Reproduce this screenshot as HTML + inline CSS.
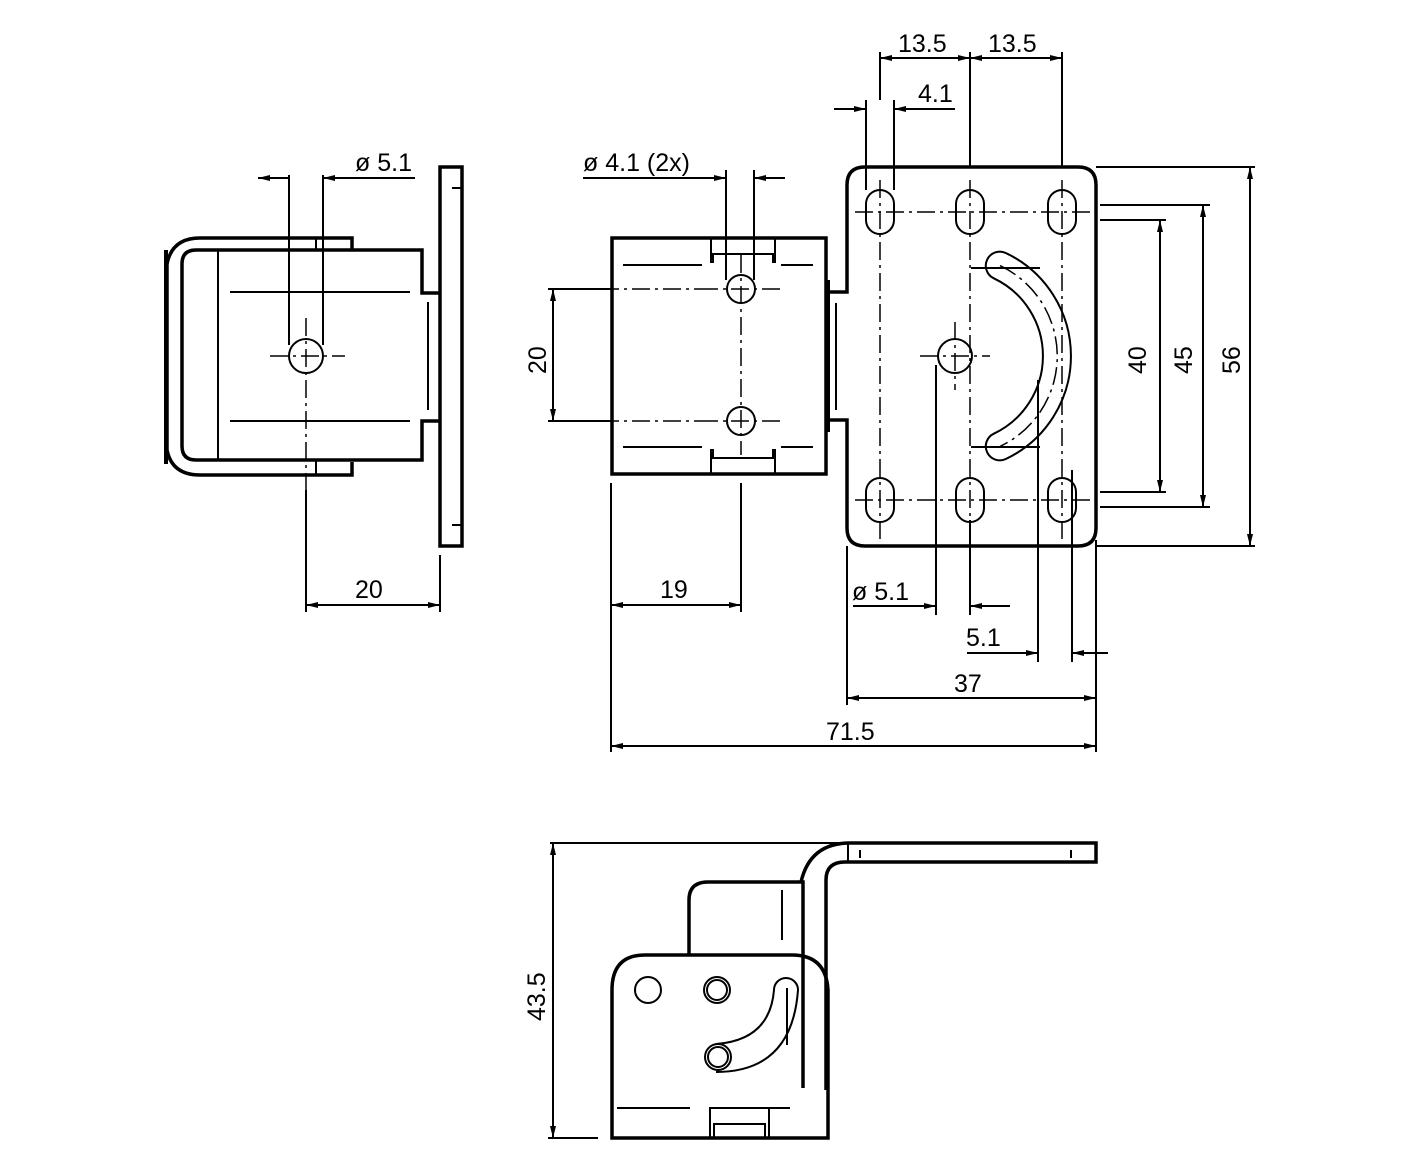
<!DOCTYPE html>
<html><head><style>body{margin:0;background:#fff}svg{display:block}</style></head><body>
<svg width="1420" height="1170" viewBox="0 0 1420 1170" xmlns="http://www.w3.org/2000/svg" font-family="Liberation Sans, sans-serif" font-size="25">
<defs>
<marker id="a" viewBox="0 0 12 6" refX="12" refY="3" markerWidth="12" markerHeight="6" orient="auto-start-reverse" markerUnits="userSpaceOnUse"><path d="M0,0L12,3L0,6z" fill="#000"/></marker>
</defs>
<g fill="none" stroke="#000">
<!-- LEFT VIEW -->
<g stroke-width="3.5">
<rect x="440" y="167" width="22" height="379"/>
<path d="M352,250V238H200Q172,238 167,264V450Q172,475 200,475H352V462"/>
<path d="M166,250V464" stroke-width="4"/>
<path d="M440,293H422V250H196Q182,250 182,264V446Q182,460 196,460H422V421H440"/>
</g>
<g stroke-width="2">
<path d="M218,250V460M230,292H410M230,421H410M428,302V410M316,238V250M316,460V475M452,188h9M452,525h9"/>
<circle cx="306" cy="356" r="17"/>
<path d="M289,175V345M323,175V345"/>
<path d="M289,178H258" marker-end="url(#a)"/><path d="M323,178H350" marker-start="url(#a)"/>
<path d="M323,178H415"/>
<path d="M306,605H440" marker-start="url(#a)" marker-end="url(#a)"/>
<path d="M306,490V612M440,555V612"/>
</g>
<g stroke-width="1.5" stroke-dasharray="18,5,3,5"><path d="M270,356H345M306,318V490"/></g>
<!-- MIDDLE VIEW -->
<g stroke-width="3.5">
<rect x="612" y="238" width="214" height="236"/>
<path d="M826,292H847V185Q847,167 865,167H1078Q1096,167 1096,185V528Q1096,546 1078,546H865Q847,546 847,528V420H826"/>
<path d="M828,280V432" stroke-width="4"/>
</g>
<g stroke-width="2">
<path d="M711,238V262h2V254h60V262h2V238"/>
<path d="M711,474V450h2V458h60V450h2V474"/>
<path d="M623,265H702M781,265H813M623,447H702M781,447H813"/>
<circle cx="741" cy="289" r="14"/><circle cx="741" cy="421" r="14"/>
<path d="M836,303V410"/>
<path d="M726,170V280M754,170V280"/>
<path d="M583,178H726" marker-end="url(#a)"/><path d="M754,178H785" marker-start="url(#a)"/>
<path d="M548,289H612M548,421H612"/>
<path d="M553,289V421" marker-start="url(#a)" marker-end="url(#a)"/>
<path d="M611,483V752M741,483V612"/>
<path d="M611,605H741" marker-start="url(#a)" marker-end="url(#a)"/>
<!-- slots -->
<rect x="866" y="190" width="28" height="44" rx="14"/><rect x="956" y="190" width="28" height="44" rx="14"/><rect x="1048" y="190" width="28" height="44" rx="14"/>
<rect x="866" y="478" width="28" height="44" rx="14"/><rect x="956" y="478" width="28" height="44" rx="14"/><rect x="1048" y="478" width="28" height="44" rx="14"/>
<circle cx="955" cy="356" r="17"/>
<path d="M1005.8,253A114,114 0 0 1 1005.8,459A14,14 0 0 1 993.8,433.7A86,86 0 0 0 993.8,278.3A14,14 0 0 1 1005.8,253Z"/>
<path d="M971,268H1040M971,447H1040"/>
<!-- dims top -->
<path d="M880,52V100M970,52V167M1062,52V167M866,100V190M894,100V190"/>
<path d="M880,58H970" marker-start="url(#a)" marker-end="url(#a)"/>
<path d="M970,58H1062" marker-start="url(#a)" marker-end="url(#a)"/>
<path d="M834,109H866" marker-end="url(#a)"/><path d="M894,109H955" marker-start="url(#a)"/>
<!-- dims right -->
<path d="M1100,220H1166M1100,492H1166M1100,205H1210M1100,507H1210M1096,167H1255M1096,546H1255"/>
<path d="M1160,220V492" marker-start="url(#a)" marker-end="url(#a)"/>
<path d="M1203,205V507" marker-start="url(#a)" marker-end="url(#a)"/>
<path d="M1250,167V546" marker-start="url(#a)" marker-end="url(#a)"/>
<!-- dims bottom -->
<path d="M936,365V615M970,520V615M1038,380V662M1072,470V662M1096,540V752M847,546V705"/>
<path d="M853,606H936" marker-end="url(#a)"/><path d="M970,606H1010" marker-start="url(#a)"/>
<path d="M967,653H1038" marker-end="url(#a)"/><path d="M1072,653H1108" marker-start="url(#a)"/>
<path d="M847,698H1096" marker-start="url(#a)" marker-end="url(#a)"/>
<path d="M611,746H1096" marker-start="url(#a)" marker-end="url(#a)"/>
</g>
<g stroke-width="1.5" stroke-dasharray="18,5,3,5">
<path d="M741,255V455M700,289H780M700,421H780M570,289H700M570,421H700"/>
<path d="M855,212H1096M855,500H1096M880,180V540M970,180V540M1062,180V540M920,356H990M955,322V390"/>
<path d="M1000,265.6A100,100 0 0 1 1000,446.4"/>
</g>
<!-- BOTTOM VIEW -->
<g stroke-width="3.5">
<path d="M612,1138V990Q612,955 645,955H792Q826,955 828,990V1138Z"/>
<path d="M689,955V900Q689,882 708,882H803V1088"/>
<path d="M826,1090V880Q826,862 845,862H1096V843H850Q810,843 801,882"/>
</g>
<g stroke-width="2">
<path d="M848,843V862M860,850V858M1071,850V858M782,890V940M617,1108H690M759,1108H790"/>
<path d="M710,1138V1108H769V1138M714,1138V1124H765V1138"/>
<circle cx="648" cy="990" r="13"/><circle cx="717" cy="990" r="13"/><circle cx="717" cy="990" r="10"/>
<circle cx="718" cy="1057" r="13"/><circle cx="718" cy="1057" r="10"/>
<path d="M716,1044Q770,1040 774,990A12,12 0 0 1 798,990Q792,1072 716,1072"/>
<path d="M787,988V1045"/>
<path d="M550,843H845M548,1138H598"/>
<path d="M553,843V1138" marker-start="url(#a)" marker-end="url(#a)"/>
</g>
</g>
<g fill="#000">
<text x="355" y="171">ø 5.1</text>
<text x="355" y="598">20</text>
<text x="583" y="171">ø 4.1 (2x)</text>
<text x="660" y="598">19</text>
<text x="898" y="52">13.5</text>
<text x="988" y="52">13.5</text>
<text x="918" y="102">4.1</text>
<text x="852" y="600">ø 5.1</text>
<text x="966" y="646">5.1</text>
<text x="954" y="692">37</text>
<text x="826" y="740">71.5</text>
<text transform="translate(546,374) rotate(-90)">20</text>
<text transform="translate(1146,374) rotate(-90)">40</text>
<text transform="translate(1192,374) rotate(-90)">45</text>
<text transform="translate(1240,374) rotate(-90)">56</text>
<text transform="translate(545,1021) rotate(-90)">43.5</text>
</g>
</svg>
</body></html>
